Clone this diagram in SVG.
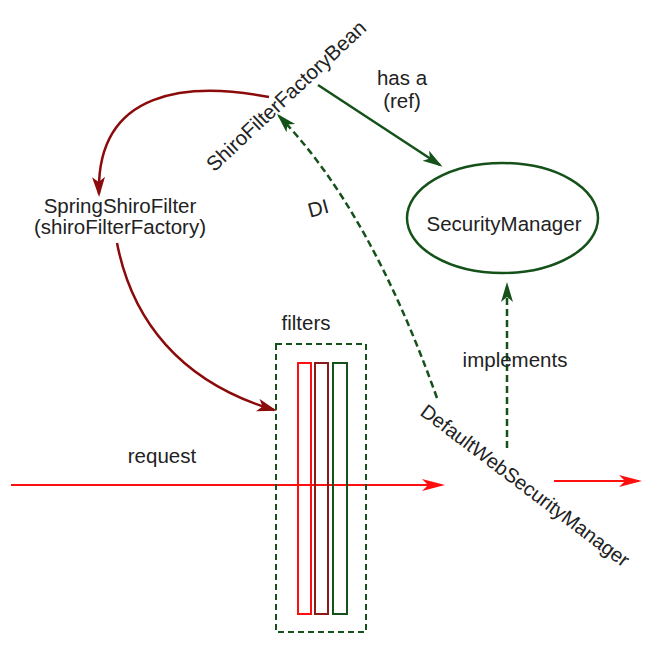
<svg xmlns="http://www.w3.org/2000/svg" width="665" height="647" viewBox="0 0 665 647">
<style>
text{font-family:"Liberation Sans",Arial,sans-serif;font-size:20.5px;fill:#222}
.red{fill:none;stroke:#8b0a0a;stroke-width:2.5}
.grn{fill:none;stroke:#15521a;stroke-width:2.5}
.dash{stroke-dasharray:7,4}
.req{fill:none;stroke:#ff1010;stroke-width:2}
</style>
<defs>
<marker id="ar" markerUnits="userSpaceOnUse" markerWidth="22" markerHeight="14" refX="17" refY="6.5" orient="auto" viewBox="0 0 22 14">
<path d="M0,0 L20,6.5 L0,13 L5,6.5 z" fill="#8b0a0a"/>
</marker>
<marker id="ag" markerUnits="userSpaceOnUse" markerWidth="22" markerHeight="14" refX="17" refY="6" orient="auto" viewBox="0 0 22 14">
<path d="M0,0 L20,6 L0,12 L5,6 z" fill="#15521a"/>
</marker>
<marker id="aq" markerUnits="userSpaceOnUse" markerWidth="24" markerHeight="14" refX="20" refY="6" orient="auto" viewBox="0 0 24 14">
<path d="M0,0 L23,6 L0,12 L6,6 z" fill="#ff1010"/>
</marker>
</defs>
<g id="connectors">
<path class="red" d="M269,97 C190,82 96,88 99,194" marker-end="url(#ar)"/>
<path class="red" d="M117,243 C132,320 180,382 274,410" marker-end="url(#ar)"/>
<path class="grn" d="M318,85 L440,165" marker-end="url(#ag)"/>
<path class="grn dash" d="M437,398 Q370,210 279,116" marker-end="url(#ag)"/>
<path class="grn dash" d="M507,448 L507,285" marker-end="url(#ag)"/>
<path class="req" d="M11,485 L442,485" marker-end="url(#aq)"/>
<path class="req" d="M554,481 L639,481" marker-end="url(#aq)"/>
<text x="162" y="463" text-anchor="middle">request</text>
<text x="402" y="85" text-anchor="middle">has a</text>
<text x="402" y="108" text-anchor="middle">(ref)</text>
<text transform="translate(320,215) rotate(-15)" text-anchor="middle">DI</text>
<text x="515" y="367" text-anchor="middle">implements</text>
</g>
<g id="shiroFilterFactoryBean">
<text transform="translate(291,101) rotate(-43)" text-anchor="middle">ShiroFilterFactoryBean</text>
</g>
<g id="springShiroFilter">
<text x="120" y="213" text-anchor="middle">SpringShiroFilter</text>
<text x="120" y="234" text-anchor="middle">(shiroFilterFactory)</text>
</g>
<g id="securityManager">
<ellipse cx="502.5" cy="218" rx="95.5" ry="55" class="grn"/>
<text x="504" y="231" text-anchor="middle">SecurityManager</text>
</g>
<g id="defaultWebSecurityManager">
<text transform="translate(521,491) rotate(37)" text-anchor="middle" style="font-size:20px">DefaultWebSecurityManager</text>
</g>
<g id="filters">
<text x="306" y="330" text-anchor="middle">filters</text>
<rect x="276" y="344" width="90" height="288" fill="none" stroke="#15521a" stroke-width="2" stroke-dasharray="6,4"/>
<rect x="298" y="363" width="13" height="251" fill="none" stroke="#ff1010" stroke-width="2"/>
<rect x="315" y="363" width="13" height="251" fill="none" stroke="#8b1a1a" stroke-width="2"/>
<rect x="333" y="363" width="14" height="251" fill="none" stroke="#15521a" stroke-width="2"/>
</g>
</svg>
